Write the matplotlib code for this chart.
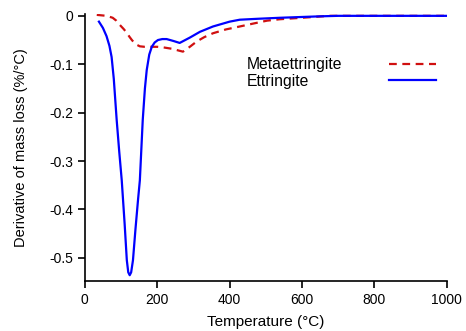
import matplotlib
matplotlib.use("Agg")
import matplotlib.pyplot as plt

plt.rcParams['font.family'] = ['Liberation Sans', 'DejaVu Sans']

# Ettringite (solid blue)
ett_T = [39, 50, 60, 68, 74, 80, 88, 95, 102, 110, 116, 120, 124, 128, 133,
         140, 147, 152, 160, 166, 171, 178, 185, 193, 202, 214, 226, 245, 262,
         290, 318, 354, 400, 428, 480, 539, 650, 700, 1000]
ett_y = [-0.012, -0.025, -0.042, -0.062, -0.085, -0.13, -0.215, -0.28, -0.34,
         -0.43, -0.505, -0.53, -0.536, -0.53, -0.505, -0.44, -0.38, -0.34,
         -0.215, -0.15, -0.112, -0.08, -0.064, -0.055, -0.05, -0.048, -0.048,
         -0.052, -0.056, -0.045, -0.033, -0.022, -0.012, -0.008, -0.006,
         -0.004, -0.001, 0.0, 0.0]

# Metaettringite (dashed red)
meta_T = [33, 60, 77, 87, 97, 107, 116, 123, 130, 137, 144, 152, 165, 180,
          200, 215, 240, 271, 290, 309, 330, 354, 390, 428, 465, 503, 539,
          600, 676, 1000]
meta_y = [0.002, 0.0, -0.004, -0.01, -0.019, -0.027, -0.035, -0.043, -0.05,
          -0.056, -0.06, -0.063, -0.064, -0.064, -0.064, -0.065, -0.068,
          -0.074, -0.064, -0.053, -0.044, -0.036, -0.028, -0.022, -0.016,
          -0.01, -0.007, -0.004, 0.0, 0.0]

xticks = [0, 200, 400, 600, 800, 1000]
yticks = [0, -0.1, -0.2, -0.3, -0.4, -0.5]
ytick_labels = ["0", "-0.1", "-0.2", "-0.3", "-0.4", "-0.5"]

fig = plt.figure(figsize=(4.66, 3.31), dpi=100)
ax = fig.add_axes([0.182, 0.151, 0.777, 0.807])

ax.plot(meta_T, meta_y, color="#d01010", lw=1.6, ls=(0, (3.5, 2.5)), label="Metaettringite")
ax.plot(ett_T, ett_y, color="#0000ff", lw=1.6, label="Ettringite")

ax.set_xlim(0, 1000)
ax.set_ylim(-0.548, 0.004)
ax.set_xticks(xticks)
ax.set_yticks(yticks)
ax.set_yticklabels(ytick_labels)

for s in ["top", "right"]:
    ax.spines[s].set_visible(False)
for s in ["left", "bottom"]:
    ax.spines[s].set_linewidth(1.2)
ax.tick_params(direction="out", length=5, width=1.2, labelsize=10, colors="black")

ax.set_xlabel("Temperature (°C)", fontsize=11, labelpad=6)
ax.set_ylabel("Derivative of mass loss (%/°C)", fontsize=10.5, labelpad=15)

leg = ax.legend(loc="upper right", bbox_to_anchor=(1.01, 0.89), frameon=False,
                markerfirst=False, handlelength=3.0, handletextpad=3.0,
                labelspacing=0.1, fontsize=11.3)

# labels left-aligned, handles right-aligned: stretch every row to the same width
fig.canvas.draw()
renderer = fig.canvas.get_renderer()
for col in leg._legend_handle_box.get_children():
    rows = col.get_children()
    w = max(r.get_bbox(renderer).width for r in rows)
    for r in rows:
        r.mode = "expand"
        r.width = w

fig.savefig("out.png", dpi=100)
